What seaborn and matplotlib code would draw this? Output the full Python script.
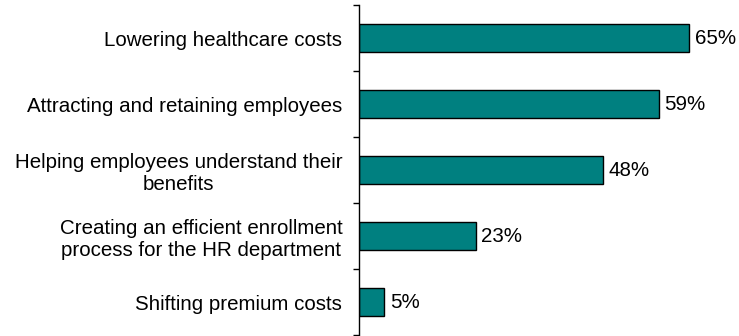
import matplotlib
matplotlib.use("Agg")
import matplotlib.pyplot as plt
import seaborn as sns
import pandas as pd

categories = [
    "Lowering healthcare costs",
    "Attracting and retaining employees",
    "Helping employees understand their\nbenefits",
    "Creating an efficient enrollment\nprocess for the HR department",
    "Shifting premium costs",
]
values = [65, 59, 48, 23, 5]

sns.set_style("white")
plt.rcParams["font.family"] = ["Liberation Sans", "DejaVu Sans"]

df = pd.DataFrame({"reason": categories, "pct": values})

fig = plt.figure(figsize=(7.39, 3.36), dpi=100)
ax = fig.add_axes([359 / 739, 1 - 335 / 336, 380 / 739, 330 / 336])

sns.barplot(data=df, y="reason", x="pct", orient="h", color="#008080",
            saturation=1, width=0.41, edgecolor="black", linewidth=1, ax=ax)

for container in ax.containers:
    ax.bar_label(container, labels=[f"{v}%" for v in values], padding=4,
                 fontsize=14.8, color="black")

ax.set_xlim(0, 380 / (330 / 65))
ax.set_ylim(4.5, -0.5)
ax.set_xlabel("")
ax.set_ylabel("")
ax.set_xticks([])

# category labels, no major tick marks; minor ticks mark the boundaries
ax.tick_params(axis="y", which="major", length=0, pad=12, labelsize=14.8,
               labelcolor="black")
for lbl in ax.get_yticklabels():
    lbl.set_multialignment("center")
    lbl.set_linespacing(1.22)
ax.set_yticks([i - 0.5 for i in range(len(categories) + 1)], minor=True)
ax.tick_params(axis="y", which="minor", length=4.5, width=1, color="black",
               direction="out", left=True)

for side in ["top", "right", "bottom"]:
    ax.spines[side].set_visible(False)
ax.spines["left"].set_color("black")
ax.spines["left"].set_linewidth(1)

fig.savefig("out.png", dpi=100)
